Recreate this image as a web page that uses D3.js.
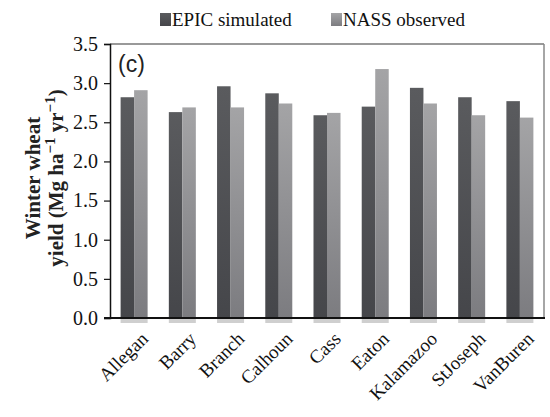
<!DOCTYPE html>
<html>
<head>
<meta charset="utf-8">
<script src="https://cdn.jsdelivr.net/npm/d3@7"></script>
<style>
  body { margin: 0; background: #fff; }
  text { font-family: "Liberation Serif", "Times New Roman", serif; }
</style>
</head>
<body>
<svg id="canvas" width="550" height="417"></svg>
<script>
let counties = ["Allegan", "Barry", "Branch", "Calhoun", "Cass", "Eaton", "Kalamazoo", "StJoseph", "VanBuren"];
let epicValues = [2.82, 2.63, 2.96, 2.87, 2.59, 2.70, 2.94, 2.82, 2.77];
let nassValues = [2.91, 2.69, 2.69, 2.74, 2.62, 3.18, 2.74, 2.59, 2.56];
let seriesNames = ["EPIC simulated", "NASS observed"];
let yTicks = [0, 0.5, 1.0, 1.5, 2.0, 2.5, 3.0, 3.5];

let canvas = d3.select("#canvas");
let margin = { left: 110, right: 6, top: 44, bottom: 99 };
let width = 550 - margin.left - margin.right;
let height = 417 - margin.top - margin.bottom;

// gradients for the two bar shades
let defs = canvas.append("defs");
let addGrad = (id, top, bottom) => {
  let g = defs.append("linearGradient").attr("id", id)
    .attr("x1", 0).attr("y1", 0).attr("x2", 0).attr("y2", 1);
  g.append("stop").attr("offset", "0%").attr("stop-color", top);
  g.append("stop").attr("offset", "100%").attr("stop-color", bottom);
};
addGrad("gradDark", "#5a5b5e", "#45464a");
addGrad("gradLight", "#a4a4a6", "#7c7c80");
let fills = ["url(#gradDark)", "url(#gradLight)"];

let x = d3.scaleBand().domain(counties).range([0, width]).paddingInner(0.44).paddingOuter(0.22);
let xSub = d3.scaleBand().domain(seriesNames).range([0, x.bandwidth()]);
let y = d3.scaleLinear().domain([0, 3.5]).range([height, 0]);

let g = canvas.append("g").attr("transform", `translate(${margin.left},${margin.top})`);

// frame (top and right in grey)
g.append("line").attr("x1", 0).attr("x2", width).attr("y1", 0).attr("y2", 0)
  .attr("stroke", "#777").attr("stroke-width", 1.5);
g.append("line").attr("x1", width).attr("x2", width).attr("y1", 0).attr("y2", height)
  .attr("stroke", "#888").attr("stroke-width", 1.5);

let rows = counties.map((c, i) => ({ county: c, values: [epicValues[i], nassValues[i]] }));

let groups = g.selectAll(".grp").data(rows).enter().append("g")
  .attr("class", "grp")
  .attr("transform", (d) => `translate(${x(d.county)},0)`);

// soft shadow under the baseline
groups.append("rect")
  .attr("x", 0).attr("y", height + 1)
  .attr("width", x.bandwidth()).attr("height", 4)
  .attr("fill", "#cfcfcf");

groups.selectAll("rect.bar")
  .data((d) => d.values.map((v, k) => ({ key: seriesNames[k], value: v, k: k })))
  .enter().append("rect")
  .attr("class", "bar")
  .attr("x", (d) => xSub(d.key))
  .attr("y", (d) => y(d.value))
  .attr("width", xSub.bandwidth())
  .attr("height", (d) => height - y(d.value))
  .attr("fill", (d) => fills[d.k]);

// y axis
let yAxis = g.append("g")
  .call(d3.axisLeft(y).tickValues(yTicks).tickFormat(d3.format(".1f")).tickSize(6).tickPadding(6));
yAxis.select(".domain").attr("stroke", "#111").attr("stroke-width", 1.5);
yAxis.selectAll(".tick line").attr("stroke", "#111").attr("stroke-width", 1.2);
yAxis.selectAll("text").style("font-size", "20px").attr("fill", "#111");

// x axis baseline
let xAxis = g.append("g").attr("transform", `translate(0,${height})`)
  .call(d3.axisBottom(x).tickSize(0).tickFormat(""));
xAxis.select(".domain").attr("stroke", "#111").attr("stroke-width", 2)
  .attr("d", `M-6,0H${width + 1}`);

// county labels, slanted at -45 degrees
g.selectAll(".xlab").data(counties).enter().append("text")
  .attr("class", "xlab")
  .attr("transform", (d) => `translate(${x(d) + x.bandwidth() / 2 + 15},${height + 22}) rotate(-45)`)
  .attr("text-anchor", "end")
  .style("font-size", "19px")
  .attr("fill", "#111")
  .text((d) => d);

// panel label
g.append("text").text("(c)")
  .attr("x", 8).attr("y", 28)
  .style("font-size", "23px").attr("fill", "#222")
  .style("font-family", "Liberation Sans, Arial, sans-serif");

// y label
let yl = canvas.append("text")
  .attr("transform", "translate(0,178) rotate(-90)")
  .attr("text-anchor", "middle")
  .style("font-size", "21px").attr("font-weight", "bold").attr("fill", "#222");
yl.append("tspan").attr("x", 0).attr("y", 40).text("Winter wheat");
let l2 = yl.append("tspan").attr("x", 0).attr("y", 63);
l2.append("tspan").text("yield (Mg ha");
l2.append("tspan").attr("dy", -8).style("font-size", "15px").text("\u22121");
l2.append("tspan").attr("dy", 8).text(" yr");
l2.append("tspan").attr("dy", -8).style("font-size", "15px").text("\u22121");
l2.append("tspan").attr("dy", 8).text(")");

// legend
let legendX = [160, 331];
let legend = canvas.selectAll(".leg").data(seriesNames).enter().append("g")
  .attr("class", "leg")
  .attr("transform", (d, i) => `translate(${legendX[i]},13)`);
legend.append("rect").attr("width", 11).attr("height", 13)
  .attr("fill", (d, i) => fills[i]);
legend.append("text").text((d) => d)
  .attr("x", 12).attr("y", 13)
  .style("font-size", "19px").attr("fill", "#111");
</script>
</body>
</html>
